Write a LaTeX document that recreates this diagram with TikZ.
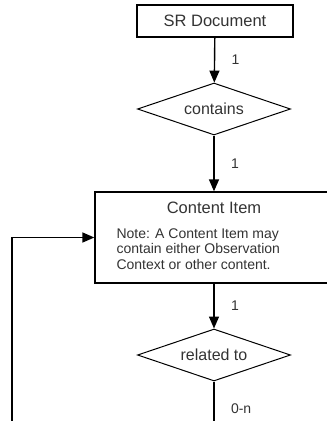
\documentclass[tikz,border=0pt]{standalone}
\usepackage{fontspec}
\setmainfont{Liberation Sans}
\usetikzlibrary{arrows, arrows.meta}
\usetikzlibrary{positioning}
\usetikzlibrary{shapes.geometric}

\begin{document}
\begin{tikzpicture}[x=1pt, y=-1pt,
    every node/.style={text=black!80},
    entity/.style={rectangle, draw=black, line width=1.3pt, inner sep=0pt},
    relation/.style={diamond, draw=black, line width=1pt, inner sep=0pt, aspect=3,
      minimum width=153pt, minimum height=52pt, font=\fontsize{16}{18}\selectfont},
    link/.style={draw=black, line width=1.4pt, -{Triangle[length=12pt, width=10pt]}},
    card/.style={right, xshift=13pt, font=\fontsize{14}{16}\selectfont}]
      \clip (0,0) rectangle (327,421);

      \node[entity, minimum width=156pt, minimum height=32pt,
        font=\fontsize{16.5}{18}\selectfont] (doc) at (215,21) {SR Document};
      \node[relation] (contains) at (214,109) {contains};
      \node[entity, minimum width=238pt, minimum height=91pt] (item) at (214,237.5) {};
      \node[font=\fontsize{16.5}{18}\selectfont, below=7pt of item.north] (title) {Content Item};
      \node[anchor=north west, align=left, inner sep=0pt, font=\fontsize{14}{15.6}\selectfont]
        (note) at ([xshift=22pt, yshift=-37pt]item.north west)
        {Note: A Content Item may\\contain either Observation\\Context or other content.};
      \node[relation] (related) at (214,355) {related to};
      \coordinate (down) at (214,436);
      \coordinate (back) at (12,440);

      \draw[link] (doc) -- node[card] {1} (contains);
      \draw[link] (contains) -- node[card] {1} (item);
      \draw[link] (item) -- node[card] {1} (related);
      \draw[draw=black, line width=1.4pt] (related) -- node[card] {0-n} (down);
      \draw[link] (back) |- (item.west);
    \end{tikzpicture}
\end{document}
